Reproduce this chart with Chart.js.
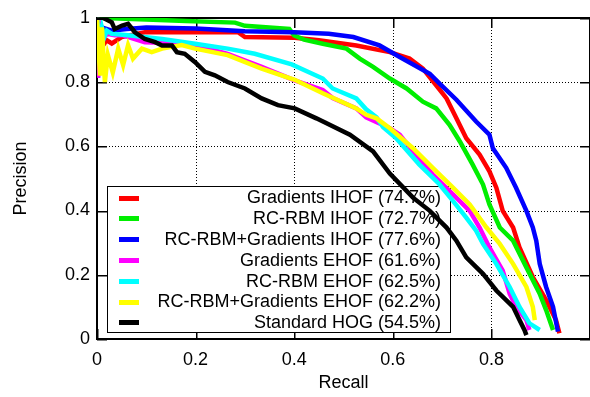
<!DOCTYPE html>
<html>
<head>
<meta charset="utf-8">
<script src="https://cdn.jsdelivr.net/npm/chart.js@4"></script>
<style>
  html, body { margin: 0; padding: 0; background: #fff; }
  #wrap { width: 590px; height: 397px; position: relative; }
</style>
</head>
<body>
<div id="wrap"><canvas id="c"></canvas></div>
<script>
// ---- Data ----
const seriesLabels = [
  'Gradients IHOF (74.7%)',
  'RC-RBM IHOF (72.7%)',
  'RC-RBM+Gradients IHOF (77.6%)',
  'Gradients EHOF (61.6%)',
  'RC-RBM EHOF (62.5%)',
  'RC-RBM+Gradients EHOF (62.2%)',
  'Standard HOG (54.5%)'
];
const seriesColors = ['#ff0000', '#00ee00', '#0000ff', '#ff00ff', '#00ffff', '#ffff00', '#000000'];

const gradIhofRecall    = [0, 0.005, 0.02, 0.03, 0.05, 0.08, 0.097, 0.199, 0.286, 0.30, 0.401, 0.45, 0.526, 0.594, 0.634, 0.661, 0.688, 0.709, 0.729, 0.749, 0.776, 0.796, 0.810, 0.823, 0.844, 0.857, 0.884, 0.911, 0.931, 0.938];
const gradIhofPrecision = [1.0, 0.90, 0.93, 0.92, 0.94, 0.95, 0.955, 0.955, 0.955, 0.94, 0.938, 0.93, 0.914, 0.893, 0.873, 0.842, 0.790, 0.749, 0.687, 0.625, 0.574, 0.522, 0.471, 0.399, 0.347, 0.285, 0.193, 0.121, 0.059, 0.018];

const rbmIhofRecall    = [0, 0.10, 0.18, 0.28, 0.30, 0.39, 0.40, 0.42, 0.458, 0.506, 0.533, 0.560, 0.594, 0.628, 0.661, 0.688, 0.715, 0.736, 0.762, 0.783, 0.796, 0.817, 0.844, 0.871, 0.898, 0.911, 0.925];
const rbmIhofPrecision = [1.0, 0.995, 0.99, 0.985, 0.975, 0.965, 0.945, 0.932, 0.919, 0.904, 0.873, 0.847, 0.811, 0.780, 0.739, 0.718, 0.667, 0.615, 0.543, 0.481, 0.419, 0.347, 0.306, 0.223, 0.141, 0.090, 0.028];

const bothIhofRecall    = [0, 0.002, 0.006, 0.01, 0.03, 0.06, 0.10, 0.20, 0.30, 0.40, 0.47, 0.52, 0.573, 0.614, 0.675, 0.695, 0.729, 0.769, 0.796, 0.803, 0.830, 0.850, 0.871, 0.884, 0.891, 0.898, 0.911, 0.925, 0.935];
const bothIhofPrecision = [0.82, 0.96, 0.93, 0.97, 0.96, 0.965, 0.97, 0.967, 0.958, 0.955, 0.95, 0.94, 0.914, 0.878, 0.826, 0.795, 0.745, 0.677, 0.636, 0.594, 0.533, 0.471, 0.399, 0.347, 0.306, 0.234, 0.162, 0.100, 0.023];

const gradEhofRecall    = [0, 0.002, 0.01, 0.02, 0.036, 0.051, 0.097, 0.18, 0.20, 0.265, 0.334, 0.401, 0.458, 0.478, 0.526, 0.546, 0.594, 0.614, 0.641, 0.681, 0.722, 0.756, 0.776, 0.796, 0.823, 0.837, 0.850, 0.871, 0.877];
const gradEhofPrecision = [0.82, 1.0, 0.93, 0.95, 0.946, 0.946, 0.924, 0.92, 0.915, 0.888, 0.847, 0.805, 0.775, 0.75, 0.718, 0.69, 0.656, 0.636, 0.584, 0.512, 0.450, 0.399, 0.347, 0.285, 0.213, 0.141, 0.100, 0.059, 0.028];

const rbmEhofRecall    = [0, 0.005, 0.01, 0.015, 0.02, 0.03, 0.063, 0.132, 0.199, 0.265, 0.320, 0.395, 0.458, 0.478, 0.526, 0.546, 0.567, 0.580, 0.607, 0.654, 0.695, 0.722, 0.749, 0.769, 0.783, 0.810, 0.837, 0.857, 0.877, 0.898];
const rbmEhofPrecision = [1.0, 0.93, 0.97, 0.94, 0.96, 0.95, 0.946, 0.934, 0.919, 0.904, 0.888, 0.855, 0.811, 0.780, 0.749, 0.715, 0.69, 0.66, 0.625, 0.543, 0.481, 0.430, 0.378, 0.337, 0.296, 0.234, 0.162, 0.100, 0.049, 0.028];

const bothEhofRecall    = [0, 0.006, 0.01, 0.016, 0.022, 0.032, 0.043, 0.053, 0.063, 0.073, 0.091, 0.111, 0.132, 0.172, 0.199, 0.265, 0.334, 0.401, 0.458, 0.526, 0.546, 0.567, 0.594, 0.641, 0.681, 0.722, 0.756, 0.790, 0.817, 0.844, 0.871, 0.884, 0.888];
const bothEhofPrecision = [1.0, 0.82, 0.97, 0.80, 0.884, 0.83, 0.904, 0.853, 0.915, 0.873, 0.904, 0.893, 0.904, 0.915, 0.904, 0.884, 0.842, 0.807, 0.765, 0.718, 0.698, 0.687, 0.656, 0.594, 0.533, 0.471, 0.419, 0.347, 0.296, 0.234, 0.162, 0.100, 0.059];

const hogRecall    = [0, 0.012, 0.030, 0.036, 0.051, 0.063, 0.077, 0.097, 0.118, 0.132, 0.152, 0.162, 0.178, 0.199, 0.219, 0.239, 0.265, 0.300, 0.334, 0.367, 0.401, 0.445, 0.513, 0.560, 0.594, 0.641, 0.675, 0.709, 0.729, 0.749, 0.783, 0.810, 0.844, 0.857, 0.867, 0.871];
const hogPrecision = [1.0, 1.0, 0.986, 0.965, 0.976, 0.981, 0.955, 0.934, 0.924, 0.914, 0.914, 0.893, 0.888, 0.862, 0.832, 0.821, 0.80, 0.780, 0.749, 0.728, 0.718, 0.687, 0.636, 0.584, 0.515, 0.440, 0.399, 0.347, 0.306, 0.254, 0.203, 0.151, 0.100, 0.059, 0.028, 0.012];

const xTickValues = [0, 0.2, 0.4, 0.6, 0.8];
const yTickValues = [0, 0.2, 0.4, 0.6, 0.8, 1];

const recallSets = [gradIhofRecall, rbmIhofRecall, bothIhofRecall, gradEhofRecall, rbmEhofRecall, bothEhofRecall, hogRecall];
const precisionSets = [gradIhofPrecision, rbmIhofPrecision, bothIhofPrecision, gradEhofPrecision, rbmEhofPrecision, bothEhofPrecision, hogPrecision];

// ---- Build datasets ----
const datasets = seriesLabels.map((label, i) => ({
  label,
  data: recallSets[i].map((r, k) => ({ x: r, y: precisionSets[i][k] })),
  borderColor: seriesColors[i],
  backgroundColor: seriesColors[i],
  borderWidth: 4.5,
  pointRadius: 0,
  tension: 0,
  fill: false,
  order: seriesLabels.length - i
}));

const FONT = '"Liberation Sans", Arial, Helvetica, sans-serif';

// Grid, frame, inward ticks and gnuplot-style key, all drawn under the curves
const framePlugin = {
  id: 'frame',
  beforeDatasetsDraw(chart) {
    const ctx = chart.ctx;
    const a = chart.chartArea;
    const sx = chart.scales.x, sy = chart.scales.y;
    const L = Math.round(a.left), R = Math.round(a.right), T = Math.round(a.top), B = Math.round(a.bottom);
    ctx.save();
    ctx.fillStyle = '#000';
    // dotted grid (1px dots, 3px period)
    xTickValues.forEach(v => {
      if (v <= 0 || v >= 1) return;
      const px = Math.round(sx.getPixelForValue(v));
      for (let y = T; y < B; y += 3) ctx.fillRect(px, y, 1, 1);
    });
    yTickValues.forEach(v => {
      if (v <= 0 || v >= 1) return;
      const py = Math.round(sy.getPixelForValue(v));
      for (let x = L; x < R; x += 3) ctx.fillRect(x, py, 1, 1);
    });

    // inward tick marks on all four sides
    const tl = 10;
    xTickValues.forEach(v => {
      const px = Math.round(sx.getPixelForValue(v));
      ctx.fillRect(px, B - tl, 1.5, tl);
      ctx.fillRect(px, T, 1.5, tl);
    });
    yTickValues.forEach(v => {
      const py = Math.round(sy.getPixelForValue(v));
      ctx.fillRect(L, py, tl, 1.5);
      ctx.fillRect(R - tl, py, tl, 1.5);
    });

    // key box
    const bx = L + 10, by = T + 168, bw = 343, bh = 146;
    ctx.fillStyle = '#fff';
    ctx.fillRect(bx, by, bw, bh);
    ctx.strokeStyle = '#000';
    ctx.lineWidth = 1;
    ctx.strokeRect(bx + 0.5, by + 0.5, bw, bh);
    ctx.font = '18px ' + FONT;
    ctx.textAlign = 'right';
    ctx.textBaseline = 'middle';
    chart.data.datasets.forEach((ds, i) => {
      const cy = by + 11.5 + i * 20.8;
      ctx.fillStyle = '#000';
      ctx.fillText(ds.label, bx + 334, cy + 1);
      ctx.fillStyle = ds.borderColor;
      ctx.fillRect(bx + 12, Math.round(cy) - 2, 20, 5);
    });

    // border
    ctx.fillStyle = '#000';
    ctx.fillRect(L - 1, T - 1, R - L + 2, 2);
    ctx.fillRect(L - 1, B - 1, R - L + 2, 2);
    ctx.fillRect(L - 1, T - 1, 2, B - T + 2);
    ctx.fillRect(R - 1, T - 1, 2, B - T + 2);
    ctx.restore();
  }
};

new Chart(document.getElementById('c'), {
  type: 'line',
  data: { datasets },
  options: {
    responsive: true,
    maintainAspectRatio: false,
    animation: false,
    layout: { padding: { top: 16, right: 0, left: 0, bottom: 0 } },
    plugins: { legend: { display: false }, tooltip: { enabled: false } },
    scales: {
      x: {
        type: 'linear',
        min: 0, max: 1,
        afterBuildTicks: s => { s.ticks = xTickValues.map(v => ({ value: v })); },
        afterFit: s => { s.height = 58; },
        grid: { display: false, drawTicks: false },
        border: { display: false },
        ticks: { color: '#000', padding: 10, font: { size: 18, family: FONT }, callback: v => String(v) },
        title: { display: true, text: 'Recall', color: '#000', font: { size: 18, family: FONT }, padding: { top: 0, bottom: 3 } }
      },
      y: {
        type: 'linear',
        min: 0, max: 1,
        afterBuildTicks: s => { s.ticks = yTickValues.map(v => ({ value: v })); },
        afterFit: s => { s.width = 97; },
        grid: { display: false, drawTicks: false },
        border: { display: false },
        ticks: { color: '#000', padding: 7, font: { size: 18, family: FONT }, callback: v => String(v) },
        title: { display: true, text: 'Precision', color: '#000', font: { size: 18, family: FONT }, padding: { top: 10, bottom: 0 } }
      }
    }
  },
  plugins: [framePlugin]
});
</script>
</body>
</html>
